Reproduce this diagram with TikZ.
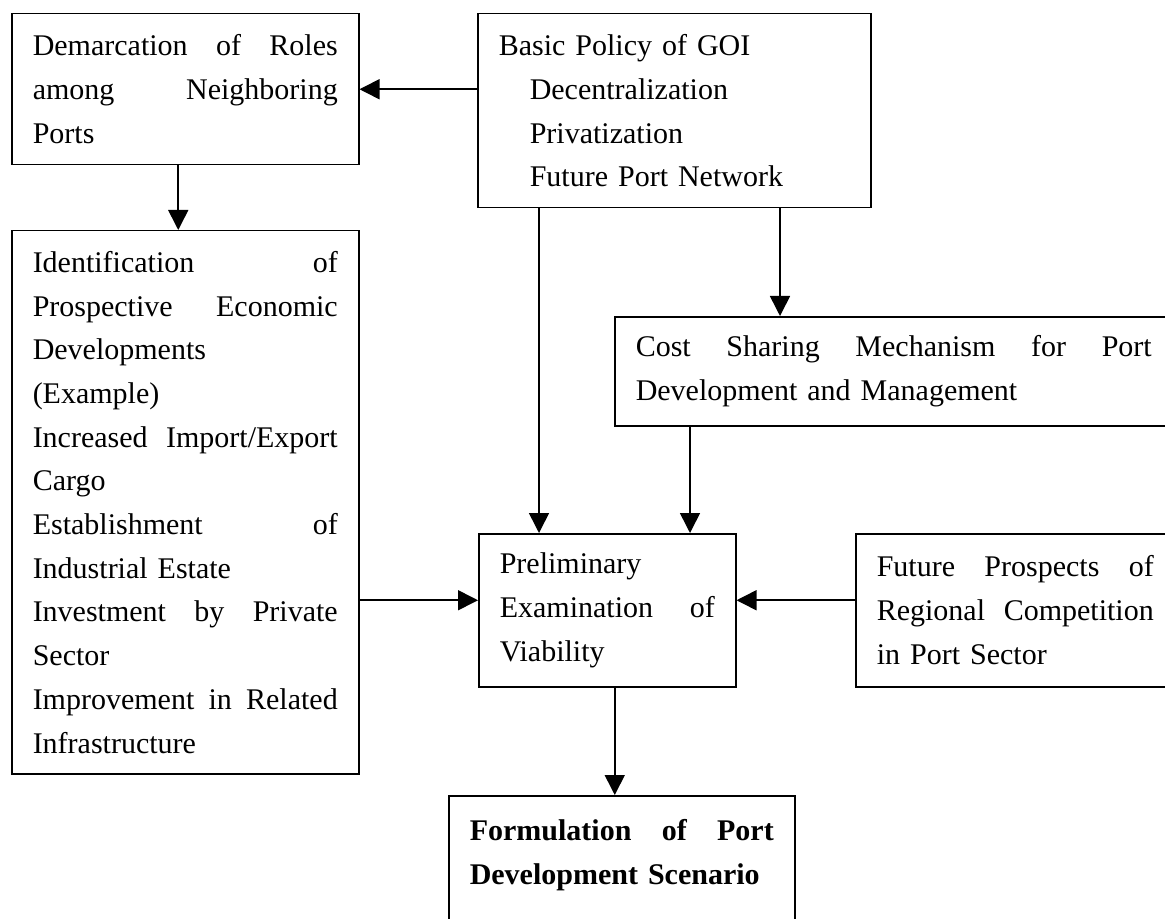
\documentclass[tikz,border=0pt]{standalone}
\usepackage{fontspec}
\setmainfont{Liberation Serif}
\usetikzlibrary{arrows.meta}
\newcommand{\jf}{\hskip 0pt plus 1filll\relax}
\tikzset{
  block/.style={draw, line width=0.75pt, anchor=north west, align=left, inner xsep=10.5pt, inner ysep=0pt, font=\fontsize{15}{21.85}\selectfont},
  arrow/.style={-{Triangle[length=10pt,width=10pt]}, line width=0.8pt}
}

\begin{document}
\begin{tikzpicture}[x=0.5pt, y=-0.5pt]
  \fill[white] (0,0) rectangle (1165,919);
  \useasboundingbox (0,0) rectangle (1165,919);

  \node[block, text width=152.5pt, minimum height=75.5pt] (demarc) at (11,13)
    {Demarcation\jf of\jf Roles\\among\jf Neighboring\\Ports};
  \node[block, text width=175.5pt, minimum height=97pt] (policy) at (477,13)
    {Basic Policy of GOI\\\hspace*{15.5pt}Decentralization\\\hspace*{15.5pt}Privatization\\\hspace*{15.5pt}Future Port Network};
  \node[block, text width=152.5pt, minimum height=271.5pt] (ident) at (11,230)
    {Identification\jf of\\Prospective\jf Economic\\Developments\\(Example)\\Increased\jf Import/Export\\Cargo\\Establishment\jf of\\Industrial Estate\\Investment\jf by\jf Private\\Sector\\Improvement\jf in\jf Related\\Infrastructure};
  \node[block, text width=258pt, minimum height=54.5pt] (cost) at (614,316)
    {Cost\jf Sharing\jf Mechanism\jf for\jf Port\\Development and Management};
  \node[block, text width=107.5pt, minimum height=76.5pt] (prelim) at (478,533)
    {Preliminary\\Examination\jf of\\Viability};
  \node[block, text width=138.5pt, minimum height=76.5pt] (future) at (855,533)
    {Future\jf Prospects\jf of\\Regional\jf Competition\\in Port Sector};
  \node[block, text width=152pt, minimum height=78pt] (formul) at (448,795)
    {\textbf{Formulation\jf of\jf Port}\\\textbf{Development Scenario}\\\mbox{}};

  % connectors
  \coordinate (pd) at ([xshift=-3.5pt]demarc.south);
  \coordinate (pa) at ([xshift=31pt]policy.south west);
  \coordinate (pb) at ([xshift=151.5pt]policy.south west);
  \coordinate (pc) at ([xshift=38pt]cost.south west);
  \coordinate (pl) at ([yshift=5pt]prelim.west);
  \coordinate (pr) at ([yshift=5pt]prelim.east);
  \coordinate (pf) at ([xshift=3.75pt]prelim.south);

  \draw[arrow] (policy.west |- demarc.east) -- (demarc.east);
  \draw[arrow] (pd) -- (pd |- ident.north);
  \draw[arrow] (pa) -- (pa |- prelim.north);
  \draw[arrow] (pb) -- (pb |- cost.north);
  \draw[arrow] (pc) -- (pc |- prelim.north);
  \draw[arrow] (ident.east |- pl) -- (pl);
  \draw[arrow] (future.west |- pr) -- (pr);
  \draw[arrow] (pf) -- (pf |- formul.north);
\end{tikzpicture}
\end{document}
